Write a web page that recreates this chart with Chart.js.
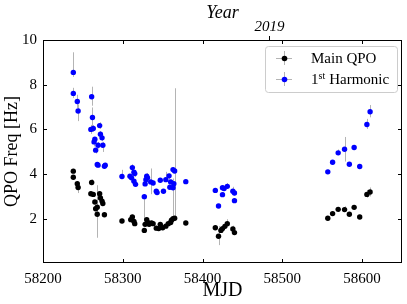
<!DOCTYPE html>
<html>
<head>
<meta charset="utf-8">
<script src="https://cdn.jsdelivr.net/npm/chart.js@4.4.1/dist/chart.umd.min.js"></script>
<style>
html,body{margin:0;padding:0;background:#fff;}
#wrap{width:407px;height:304px;}
</style>
</head>
<body>
<div id="wrap"><canvas id="c" width="407" height="304"></canvas></div>
<script>
// ---- data ----
const harmMjd  = [58238,58238,58243,58244,58261,58262,58260,58263,58271,58272,58274,58265,58264,58269,58275,58266,58268,58269,58277,58278,
                  58299,58312,58309,58311,58315,58314,58314,58316,58327,58328,58330,58331,58329,58335,58338,58342,58343,58347,58351,58354,
                  58358,58359,58360,58363,58365,58364,58363,58379,
                  58416,58425,58427,58431,58425,58438,58440,58440,58420,
                  58557,58563,58570,58578,58584,58590,58597,58606,58610];
const harmFreq = [8.55,7.61,7.25,6.82,7.46,6.53,6.00,6.04,6.17,5.78,5.62,5.56,5.44,5.29,5.29,5.07,4.43,4.40,4.35,4.40,
                  3.89,4.29,3.90,3.83,4.02,4.08,3.68,3.54,2.99,3.56,3.90,3.83,3.75,3.65,3.60,3.23,3.17,3.72,3.23,3.75,
                  3.92,3.41,3.65,4.20,4.14,3.57,3.39,3.66,
                  3.27,3.39,3.35,3.45,3.08,3.23,3.15,2.81,2.57,
                  4.10,4.53,4.95,5.11,4.44,5.19,4.34,6.22,6.79];
const harmErrLo = [0.20,0.20,0.30,0.45,0.40,0.45,0.20,0.15,0.15,0.15,0.15,0.10,0.20,0.15,0.30,0.15,0.10,0.10,0.10,0.10,
                   0.10,0.10,0.10,0.10,0.15,0.10,0.10,0.10,1.06,0.10,0.15,0.10,0.10,0.55,0.10,0.10,0.10,0.10,0.10,0.10,
                   0.15,0.10,0.10,0.10,0.50,0.10,0.10,0.10,
                   0.10,0.10,0.10,0.10,0.10,0.10,0.10,0.10,0.10,
                   0.10,0.10,0.10,0.55,0.10,0.10,0.10,0.20,0.25];
const harmErrHi = [0.90,0.25,0.30,0.30,0.45,0.45,0.20,0.15,0.15,0.15,0.15,0.10,0.20,0.15,0.15,0.10,0.10,0.10,0.10,0.10,
                   0.30,0.15,0.10,0.10,0.15,0.10,0.10,0.10,0.10,0.10,0.15,0.10,0.10,0.60,0.10,0.10,0.10,0.10,0.10,0.35,
                   0.10,0.10,0.10,0.10,3.70,0.10,0.10,0.10,
                   0.10,0.10,0.10,0.15,0.10,0.20,0.10,0.10,0.10,
                   0.10,0.10,0.15,0.55,0.10,0.10,0.10,0.25,0.30];

const mainMjd  = [58238,58238,58243,58244,58261,58260,58263,58271,58272,58265,58274,58275,58268,58266,58268,58277,
                  58299,58312,58310,58314,58315,58327,58328,58330,58331,58333,58336,58338,58342,58345,58347,58350,58354,58357,58360,58361,58363,58365,58379,
                  58416,58420,58423,58425,58428,58431,58438,58440,
                  58557,58563,58570,58578,58584,58590,58597,58606,58610];
const mainFreq = [4.13,3.86,3.57,3.40,3.62,3.12,3.09,3.12,2.93,2.75,2.79,2.68,2.52,2.45,2.20,2.18,
                  1.90,2.08,1.96,1.88,1.78,1.48,1.75,1.96,1.85,1.75,1.81,1.78,1.58,1.56,1.75,1.60,1.67,1.78,1.83,1.93,2.00,2.02,1.81,
                  1.60,1.22,1.48,1.56,1.66,1.78,1.54,1.38,
                  2.02,2.23,2.42,2.41,2.20,2.51,2.08,3.09,3.20];
const mainErrLo = [0.10,0.10,0.10,0.25,0.10,0.10,0.10,0.10,0.10,0.10,0.10,0.10,0.10,0.10,1.05,0.10,
                   0.10,0.10,0.10,0.10,0.10,0.10,0.10,0.10,0.10,0.10,0.10,0.10,0.10,0.10,0.10,0.10,0.10,0.10,0.10,0.10,0.10,0.10,0.10,
                   0.10,0.40,0.10,0.10,0.10,0.10,0.10,0.10,
                   0.10,0.10,0.10,0.10,0.10,0.10,0.10,0.15,0.20];
const mainErrHi = [0.10,0.10,0.10,0.10,0.15,0.10,0.10,0.10,0.10,0.10,0.10,0.10,0.10,0.10,1.30,0.10,
                   0.10,0.10,0.10,0.10,0.10,0.10,0.10,0.10,0.10,0.10,0.10,0.10,0.10,0.10,0.10,0.10,0.10,0.10,0.10,0.10,1.80,1.90,0.10,
                   0.10,0.45,0.10,0.10,0.10,0.20,0.15,0.10,
                   0.10,0.10,0.10,0.15,0.10,0.10,0.10,0.20,0.20];

const xTicks = [58200,58300,58400,58500,58600];
const yTicks = [2,4,6,8,10];
const yearTicks = [58484];
const yearLabels = ['2019'];
const seriesNames = ['Main QPO','1st Harmonic'];

// ---- build datasets ----
function pts(xs, ys){ return xs.map((x,i)=>({x:x, y:ys[i]})); }
const series = [
  {name:seriesNames[0], color:'#000000', x:mainMjd, y:mainFreq, lo:mainErrLo, hi:mainErrHi},
  {name:seriesNames[1], color:'#0000ff', x:harmMjd, y:harmFreq, lo:harmErrLo, hi:harmErrHi}
];

const SERIF = "'Liberation Serif', 'DejaVu Serif', serif";
const ERR_COLOR = '#b4b4b4';

const errorBars = {
  id:'errorBars',
  beforeDatasetsDraw(chart){
    const ctx = chart.ctx, xs = chart.scales.x, ys = chart.scales.y, a = chart.chartArea;
    ctx.save();
    ctx.beginPath(); ctx.rect(a.left, a.top, a.right-a.left, a.bottom-a.top); ctx.clip();
    ctx.strokeStyle = ERR_COLOR; ctx.lineWidth = 1;
    series.forEach(s=>{
      s.x.forEach((mx,i)=>{
        const px = Math.round(xs.getPixelForValue(mx))+0.5;
        const y1 = ys.getPixelForValue(s.y[i]-s.lo[i]);
        const y2 = ys.getPixelForValue(s.y[i]+s.hi[i]);
        ctx.beginPath(); ctx.moveTo(px,y1); ctx.lineTo(px,y2); ctx.stroke();
      });
    });
    ctx.restore();
  }
};

const frameAndTicks = {
  id:'frameAndTicks',
  afterDraw(chart){
    const ctx = chart.ctx, xs = chart.scales.x, ys = chart.scales.y, a = chart.chartArea;
    ctx.save();
    ctx.strokeStyle = '#000'; ctx.lineWidth = 1;
    const L = Math.round(a.left)+0.5, R = Math.round(a.right)-0.5, T = Math.round(a.top)+0.5, B = Math.round(a.bottom)-0.5;
    ctx.strokeRect(L, T, R-L, B-T);
    const tl = 3.5;
    ctx.beginPath();
    xTicks.forEach(v=>{
      const px = Math.round(xs.getPixelForValue(v))+0.5;
      ctx.moveTo(px,B); ctx.lineTo(px,B-tl);
      ctx.moveTo(px,T); ctx.lineTo(px,T+tl);
    });
    yTicks.forEach(v=>{
      const py = Math.round(ys.getPixelForValue(v))+0.5;
      ctx.moveTo(L,py); ctx.lineTo(L+tl,py);
      ctx.moveTo(R,py); ctx.lineTo(R-tl,py);
    });
    ctx.stroke();

    // legend
    const bw = 132, bh = 46;
    const bx = a.right - 5 - bw, by = a.top + 6;
    ctx.fillStyle = 'rgba(255,255,255,0.8)';
    ctx.strokeStyle = '#cccccc';
    ctx.beginPath();
    if (ctx.roundRect) ctx.roundRect(bx+0.5, by+0.5, bw, bh, 3); else ctx.rect(bx+0.5, by+0.5, bw, bh);
    ctx.fill(); ctx.stroke();
    const rows = [by+12, by+33];
    series.forEach((s,k)=>{
      const mx = bx+19, my = rows[k];
      ctx.strokeStyle = ERR_COLOR; ctx.lineWidth = 1;
      ctx.beginPath();
      ctx.moveTo(mx+0.5, my-7); ctx.lineTo(mx+0.5, my+7);
      ctx.moveTo(mx-8, my+0.5); ctx.lineTo(mx+8, my+0.5);
      ctx.stroke();
      ctx.fillStyle = s.color;
      ctx.beginPath(); ctx.arc(mx+0.5, my+0.5, 2.8, 0, Math.PI*2); ctx.fill();
    });
    ctx.fillStyle = '#000';
    ctx.textBaseline = 'middle'; ctx.textAlign = 'left';
    ctx.font = "15px " + SERIF;
    const tx = bx + 46;
    ctx.fillText(seriesNames[0], tx, rows[0]+1);
    // "1st Harmonic" with superscript
    const parts = seriesNames[1].match(/^(\d+)(st|nd|rd|th)\s(.*)$/);
    ctx.fillText(parts[1], tx, rows[1]+1);
    let w = ctx.measureText(parts[1]).width;
    ctx.font = "10px " + SERIF;
    ctx.fillText(parts[2], tx + w, rows[1]-3);
    w += ctx.measureText(parts[2]).width + 4;
    ctx.font = "15px " + SERIF;
    ctx.fillText(parts[3], tx + w, rows[1]+1);
    ctx.restore();
  }
};

new Chart(document.getElementById('c'), {
  type:'scatter',
  data:{
    datasets: series.map(s=>({
      label:s.name,
      data:pts(s.x, s.y),
      backgroundColor:s.color,
      borderColor:s.color,
      borderWidth:0,
      pointRadius:2.7,
      pointHoverRadius:2.7
    }))
  },
  options:{
    responsive:false,
    animation:false,
    events:[],
    layout:{padding:{left:0,right:5,top:0,bottom:0}},
    plugins:{legend:{display:false}, tooltip:{enabled:false}},
    scales:{
      x:{
        type:'linear', position:'bottom', min:58200, max:58650,
        afterBuildTicks(s){ s.ticks = xTicks.map(v=>({value:v})); },
        afterFit(s){ s.height = 41; },
        grid:{display:false, drawTicks:false},
        border:{display:false},
        ticks:{color:'#000', padding:7, maxRotation:0, autoSkip:false, font:{family:SERIF, size:15}, callback:v=>String(v)},
        title:{display:true, text:'MJD', color:'#000', font:{family:SERIF, size:20}, padding:{top:0,bottom:1}}
      },
      x2:{
        type:'linear', position:'top', min:58200, max:58650,
        afterBuildTicks(s){ s.ticks = yearTicks.map(v=>({value:v})); },
        afterFit(s){ s.height = 40; },
        grid:{display:true, drawOnChartArea:false, drawTicks:true, tickLength:4, color:'#000', tickColor:'#000'},
        border:{display:false},
        ticks:{color:'#000', padding:0, maxRotation:0, autoSkip:false, font:{family:SERIF, size:15, style:'italic'}, callback:(v,i)=>yearLabels[i]},
        title:{display:true, text:'Year', color:'#000', font:{family:SERIF, size:18, style:'italic'}, padding:{top:2,bottom:0}}
      },
      y:{
        type:'linear', position:'left', min:0.02, max:10,
        afterBuildTicks(s){ s.ticks = yTicks.map(v=>({value:v})); },
        afterFit(s){ s.width = 43; },
        grid:{display:false, drawTicks:false},
        border:{display:false},
        ticks:{color:'#000', padding:6, font:{family:SERIF, size:15}, callback:v=>String(v)},
        title:{display:true, text:'QPO Freq [Hz]', color:'#000', font:{family:SERIF, size:18}, padding:{top:1,bottom:0}}
      }
    }
  },
  plugins:[errorBars, frameAndTicks]
});
</script>
</body>
</html>
